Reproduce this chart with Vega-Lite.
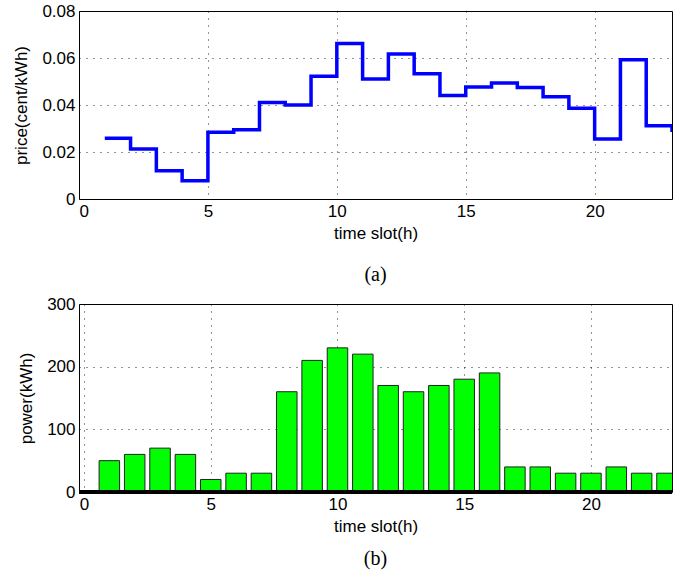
{
  "$schema": "https://vega.github.io/schema/vega-lite/v6.json",
  "autosize": {"type": "pad"},
  "padding": {"left": 12, "top": 1, "right": 15, "bottom": 5},
  "bounds": "flush",
  "spacing": 105,
  "background": "white",
  "config": {
    "view": {"stroke": "black", "strokeWidth": 1},
    "axis": {
      "grid": true, "gridColor": "#000000", "gridDash": [1, 6], "gridOpacity": 0.85, "gridWidth": 1,
      "ticks": false, "domain": false,
      "labelFont": "Liberation Sans", "labelFontSize": 17, "labelColor": "black", "labelPadding": 4,
      "titleFont": "Liberation Sans", "titleFontSize": 17, "titleFontWeight": "normal", "titleColor": "black"
    },
    "axisX": {"titlePadding": 6},
    "axisY": {"titlePadding": 11},
    "title": {"font": "Liberation Serif", "fontSize": 20, "fontWeight": "normal", "orient": "bottom", "color": "black"}
  },
  "vconcat": [
    {
      "width": 593, "height": 188,
      "title": {"text": "(a)", "offset": 24},
      "data": {"values": [
        {"slot": 1, "price": 0.0258}, {"slot": 2, "price": 0.0213}, {"slot": 3, "price": 0.0120},
        {"slot": 4, "price": 0.0078}, {"slot": 5, "price": 0.0284}, {"slot": 6, "price": 0.0295},
        {"slot": 7, "price": 0.0411}, {"slot": 8, "price": 0.0400}, {"slot": 9, "price": 0.0522},
        {"slot": 10, "price": 0.0662}, {"slot": 11, "price": 0.0511}, {"slot": 12, "price": 0.0617},
        {"slot": 13, "price": 0.0533}, {"slot": 14, "price": 0.0440}, {"slot": 15, "price": 0.0477},
        {"slot": 16, "price": 0.0494}, {"slot": 17, "price": 0.0475}, {"slot": 18, "price": 0.0435},
        {"slot": 19, "price": 0.0386}, {"slot": 20, "price": 0.0255}, {"slot": 21, "price": 0.0593},
        {"slot": 22, "price": 0.0312}, {"slot": 23, "price": 0.0285}
      ]},
      "mark": {"type": "line", "interpolate": "step-after", "color": "#0000ff", "strokeWidth": 3.5, "clip": true},
      "encoding": {
        "x": {"field": "slot", "type": "quantitative", "title": "time slot(h)",
              "scale": {"domain": [0, 23], "nice": false},
              "axis": {"values": [0, 5, 10, 15, 20]}},
        "y": {"field": "price", "type": "quantitative", "title": "price(cent/kWh)",
              "scale": {"domain": [0, 0.08], "nice": false},
              "axis": {"values": [0, 0.02, 0.04, 0.06, 0.08], "format": "~g"}}
      }
    },
    {
      "width": 593, "height": 188,
      "title": {"text": "(b)", "offset": 15},
      "data": {"values": [
        {"slot": 1, "power": 50}, {"slot": 2, "power": 60}, {"slot": 3, "power": 70},
        {"slot": 4, "power": 60}, {"slot": 5, "power": 20}, {"slot": 6, "power": 30},
        {"slot": 7, "power": 30}, {"slot": 8, "power": 160}, {"slot": 9, "power": 210},
        {"slot": 10, "power": 230}, {"slot": 11, "power": 220}, {"slot": 12, "power": 170},
        {"slot": 13, "power": 160}, {"slot": 14, "power": 170}, {"slot": 15, "power": 180},
        {"slot": 16, "power": 190}, {"slot": 17, "power": 40}, {"slot": 18, "power": 40},
        {"slot": 19, "power": 30}, {"slot": 20, "power": 30}, {"slot": 21, "power": 40},
        {"slot": 22, "power": 30}, {"slot": 23, "power": 30}
      ]},
      "layer": [
        {
          "mark": {"type": "bar", "color": "#00ff00", "stroke": "#222222", "strokeWidth": 1, "width": 20.5, "clip": true},
          "encoding": {
            "x": {"field": "slot", "type": "quantitative", "title": "time slot(h)",
                  "scale": {"domain": [0, 23], "nice": false},
                  "axis": {"values": [0, 5, 10, 15, 20]}},
            "y": {"field": "power", "type": "quantitative", "title": "power(kWh)",
                  "scale": {"domain": [0, 300], "nice": false},
                  "axis": {"values": [0, 100, 200, 300]}}
          }
        },
        {
          "mark": {"type": "rule", "color": "black", "strokeWidth": 3.5},
          "encoding": {"y": {"datum": 0}}
        }
      ]
    }
  ]
}
